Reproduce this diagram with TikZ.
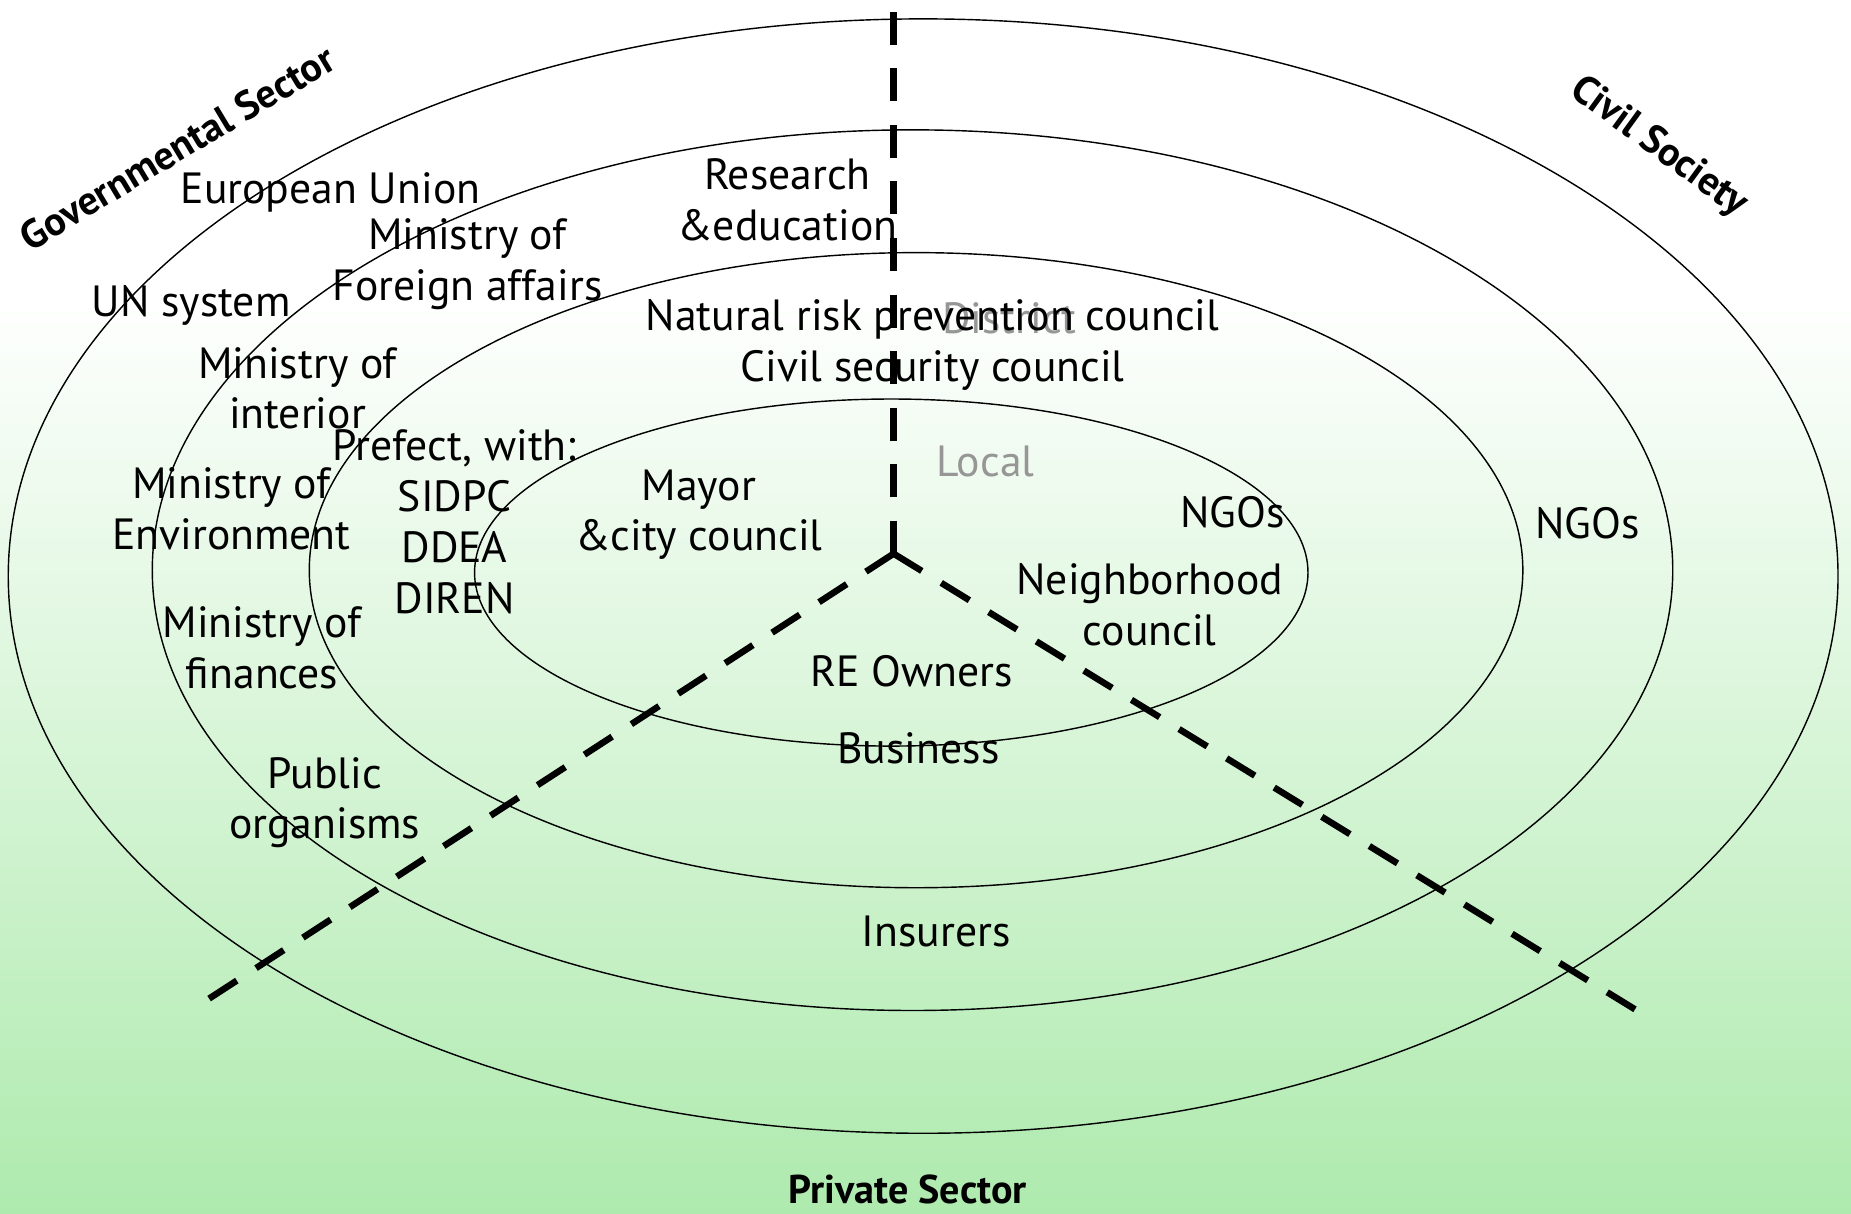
\documentclass[tikz,border=0pt]{standalone}
\usepackage{fontspec}
\setmainfont{PT Sans}
\definecolor{bggreen}{RGB}{174,234,174}
\definecolor{lvlgray}{RGB}{150,150,150}
\begin{document}
\begin{tikzpicture}[x=1pt,y=-1pt,
  lbl/.style={align=center, inner sep=0pt, font=\fontsize{37}{43}\selectfont},
  lvl/.style={lbl, text=lvlgray},
  sector/.style={inner sep=0pt, font=\fontsize{34}{36}\selectfont\bfseries},
  ring/.style={draw=black, line width=1.2pt},
  divider/.style={line width=5.5pt}]
\useasboundingbox (0,0) rectangle (1568,1028);
\fill[white] (0,0) rectangle (1568,250);
\shade[top color=white, bottom color=bggreen] (0,249) rectangle (1568,1028);
% rings
\draw[ring] (782,488) ellipse [x radius=775, y radius=472];
\draw[ring] (773,483) ellipse [x radius=644, y radius=373];
\draw[ring] (776,483) ellipse [x radius=514, y radius=269];
\draw[ring] (755,485) ellipse [x radius=353, y radius=147];
% level labels
\node[lvl] (district) at (855,270) {District};
\node[lvl] (local) at (835,391) {Local};
% dividers
\coordinate (hub) at (757,469);
\coordinate (topend) at (757,10);
\coordinate (blend) at (177,846);
\coordinate (brend) at (1385,855);
\draw[divider, dash pattern=on 28pt off 19.9pt] (topend) -- (hub);
\draw[divider, dash pattern=on 28pt off 19.4pt] (hub) -- (blend);
\draw[divider, dash pattern=on 28pt off 19.3pt] (hub) -- (brend);
% sector titles
\node[sector, rotate=31] (gov) at (150,125) {Governmental Sector};
\node[sector, rotate=-36] (civ) at (1405,125) {Civil Society};
\node[sector] (priv) at (769,1008) {Private Sector};
% labels
\node[lbl] (eu) at (280,163) {European Union};
\node[lbl] (mfa) at (396,224) {Ministry of\\Foreign affairs};
\node[lbl] (un) at (162,259) {UN system};
\node[lbl] (mint) at (252,329) {Ministry of\\interior};
\node[lbl] (pref) at (385,442) {Prefect, with:\\SIDPC\\DDEA\\DIREN};
\node[lbl] (menv) at (196,431) {Ministry of\\Environment};
\node[lbl] (mfin) at (222,549) {Ministry of\\finances};
\node[lbl] (pub) at (275,680) {Public\\organisms};
\node[lbl] (res) at (667,169) {Research\\\&education};
\node[lbl] (nat) at (790,292) {Natural risk prevention council\\Civil security council};
\node[lbl] (mayor) at (592,436) {Mayor\\\&city council};
\node[lbl] (ngo1) at (1044,434) {NGOs};
\node[lbl] (neigh) at (974,512) {Neighborhood\\council};
\node[lbl] (reo) at (772,569) {RE Owners};
\node[lbl] (bus) at (778,634) {Business};
\node[lbl] (ngo2) at (1345,443) {NGOs};
\node[lbl] (ins) at (793,789) {Insurers};
\end{tikzpicture}
\end{document}
